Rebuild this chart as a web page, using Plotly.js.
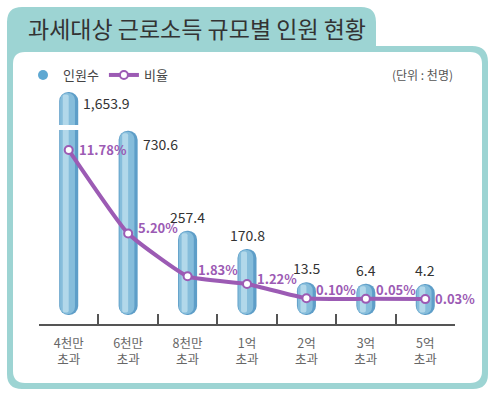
<!DOCTYPE html>
<html>
<head>
<meta charset="utf-8">
<script src="https://cdn.plot.ly/plotly-3.0.1.min.js"></script>
<style>
  html, body { margin: 0; padding: 0; background: #ffffff; }
  #chart { width: 495px; height: 399px; }
</style>
</head>
<body>
<div id="chart"></div>
<script>
// ---- data ----
const categories = ['4천만<br>초과', '6천만<br>초과', '8천만<br>초과', '1억<br>초과', '2억<br>초과', '3억<br>초과', '5억<br>초과'];
const people = [1653.9, 730.6, 257.4, 170.8, 13.5, 6.4, 4.2];          // 인원수 (천명)
const peopleLabels = ['1,653.9', '730.6', '257.4', '170.8', '13.5', '6.4', '4.2'];
const ratio = [11.78, 5.20, 1.83, 1.22, 0.10, 0.05, 0.03];              // 비율 (%)
const ratioLabels = ['11.78%', '5.20%', '1.83%', '1.22%', '0.10%', '0.05%', '0.03%'];

// ---- layout geometry ----
const W = 495, H = 399;
const M = { l: 39, r: 40, t: 88, b: 75 };
const PW = W - M.l - M.r, PH = H - M.t - M.b;
const px2x = px => (px - M.l) / PW;
const px2y = py => (H - M.b - py) / PH;

const S = 0.211;                 // px per 천명
const BASE = -30 / S;            // visual foot of each pill
const lowerTopPx = 130, upperBotPx = 125;
const lowerDom = [0, px2y(lowerTopPx)];
const upperDom = [px2y(upperBotPx), 1];
const lowerMin = BASE - 9 / S;
const lowerRange = [lowerMin, lowerMin + (lowerDom[1] * PH) / S];
const upperMax = people[0] + 4 / S;
const upperRange = [upperMax - ((1 - upperDom[0]) * PH) / S, upperMax];
const ratioK = 12.69, ratioZeroPx = 299.5;
const ratioRange = [(ratioZeroPx - (H - M.b)) / ratioK, (ratioZeroPx - lowerTopPx) / ratioK];

const purple = '#9c5bb4';
const FONT = '"Noto Sans CJK KR", "Noto Sans", sans-serif';

// one shading layer of the rounded bars
function pill(yaxis, color, width, offset, insetPx) {
  const inset = insetPx / S;
  return {
    type: 'bar', x: categories, yaxis: yaxis,
    base: people.map(() => BASE + inset),
    y: people.map(v => v - BASE - 2 * inset),
    width: width, offset: offset,
    marker: { color: color, cornerradius: '50%', line: { width: 0 } },
    showlegend: false, hoverinfo: 'skip'
  };
}
const shading = [
  ['#5e9ec8', 0.32, -0.16, 0],
  ['#86bddb', 0.25, -0.145, 1],
  ['#b2d8ea', 0.10, -0.10, 2.5]
];

const traces = [
  { type: 'scatter', mode: 'markers', x: [null], y: [null], name: '인원수',
    marker: { color: '#5ea8d2', size: 10, symbol: 'circle' }, hoverinfo: 'skip' }
];
['y', 'y2'].forEach(ax => shading.forEach(s => traces.push(pill(ax, s[0], s[1], s[2], s[3]))));
traces.push({ type: 'scatter', mode: 'lines+markers', x: categories, y: ratio, yaxis: 'y3', name: '비율',
  line: { color: purple, width: 4, shape: 'spline', smoothing: 0.4 },
  marker: { color: '#ffffff', size: 8, line: { color: purple, width: 2 } },
  hoverinfo: 'skip' });

const annotations = [];
people.forEach((v, i) => {
  const f = { size: 14, color: '#333' };
  if (i === 0) {
    annotations.push({ x: i, y: v, xref: 'x', yref: 'y2', text: peopleLabels[i], showarrow: false,
      xanchor: 'left', yanchor: 'middle', xshift: 12, yshift: -11, font: f });
  } else if (i === 1) {
    annotations.push({ x: i, y: v, xref: 'x', yref: 'y', text: peopleLabels[i], showarrow: false,
      xanchor: 'left', yanchor: 'middle', xshift: 13, yshift: -13, font: f });
  } else {
    annotations.push({ x: i, y: v, xref: 'x', yref: 'y', text: peopleLabels[i], showarrow: false,
      xanchor: 'center', yanchor: 'bottom', yshift: 2, font: f });
  }
});
const ratioLabelLift = [1, 6, 7, 6, 9, 9, 1];
ratio.forEach((v, i) => {
  annotations.push({ x: i, y: v, xref: 'x', yref: 'y3', text: ratioLabels[i], showarrow: false,
    xanchor: 'left', yanchor: 'middle', xshift: 8, yshift: ratioLabelLift[i],
    font: { size: 13, color: purple, weight: 'bold' } });
});
annotations.push({ x: 1, y: px2y(75), xref: 'paper', yref: 'paper', text: '(단위 : 천명)', showarrow: false,
  xanchor: 'right', yanchor: 'middle', font: { size: 12, color: '#555' } });

const teal = '#9dd4d3';
const outerPath = [
  'M', px2x(7), px2y(374),
  'L', px2x(7), px2y(22), 'Q', px2x(7), px2y(7), px2x(22), px2y(7),
  'L', px2x(361), px2y(7), 'Q', px2x(376), px2y(7), px2x(376), px2y(22),
  'L', px2x(376), px2y(46), 'L', px2x(472), px2y(46),
  'Q', px2x(488), px2y(46), px2x(488), px2y(62),
  'L', px2x(488), px2y(374), 'Q', px2x(488), px2y(389), px2x(473), px2y(389),
  'L', px2x(22), px2y(389), 'Q', px2x(7), px2y(389), px2x(7), px2y(374), 'Z'
].join(' ');
const innerPath = [
  'M', px2x(13), px2y(64),
  'Q', px2x(13), px2y(52), px2x(25), px2y(52),
  'L', px2x(470), px2y(52), 'Q', px2x(482), px2y(52), px2x(482), px2y(64),
  'L', px2x(482), px2y(371), 'Q', px2x(482), px2y(383), px2x(470), px2y(383),
  'L', px2x(25), px2y(383), 'Q', px2x(13), px2y(383), px2x(13), px2y(371), 'Z'
].join(' ');

const layout = {
  width: W, height: H,
  margin: M,
  paper_bgcolor: '#ffffff', plot_bgcolor: 'rgba(0,0,0,0)',
  font: { family: FONT, color: '#444' },
  title: { text: '과세대상 근로소득 규모별 인원 현황', x: 28 / W, xanchor: 'left', xref: 'container',
    y: 1 - 30 / H, yanchor: 'middle', yref: 'container', font: { size: 23, color: '#333', family: FONT } },
  barmode: 'overlay',
  showlegend: true,
  legend: { orientation: 'h', x: px2x(23), xanchor: 'left', y: px2y(75), yanchor: 'middle',
    font: { size: 13, color: '#444' }, bgcolor: 'rgba(0,0,0,0)', itemwidth: 30, traceorder: 'normal' },
  xaxis: { type: 'category', range: [-0.5, 6.5], anchor: 'y', showline: true, linecolor: '#555', linewidth: 2,
    ticks: 'inside', tickson: 'boundaries', ticklen: 10, tickwidth: 2, tickcolor: '#555',
    showgrid: false, zeroline: false, fixedrange: true,
    tickfont: { size: 12.5, color: '#666' }, ticklabelstandoff: 7 },
  yaxis: { domain: lowerDom, range: lowerRange, visible: false, showgrid: false, zeroline: false, fixedrange: true },
  yaxis2: { domain: upperDom, range: upperRange, anchor: 'x', visible: false, showgrid: false, zeroline: false, fixedrange: true },
  yaxis3: { overlaying: 'y', range: ratioRange, visible: false, showgrid: false, zeroline: false, fixedrange: true },
  annotations: annotations,
  shapes: [
    { type: 'path', xref: 'paper', yref: 'paper', path: outerPath, fillcolor: teal, line: { width: 0 }, layer: 'below' },
    { type: 'path', xref: 'paper', yref: 'paper', path: innerPath, fillcolor: '#ffffff', line: { width: 0 }, layer: 'below' }
  ]
};

Plotly.newPlot('chart', traces, layout, { staticPlot: true, displayModeBar: false });
</script>
</body>
</html>
